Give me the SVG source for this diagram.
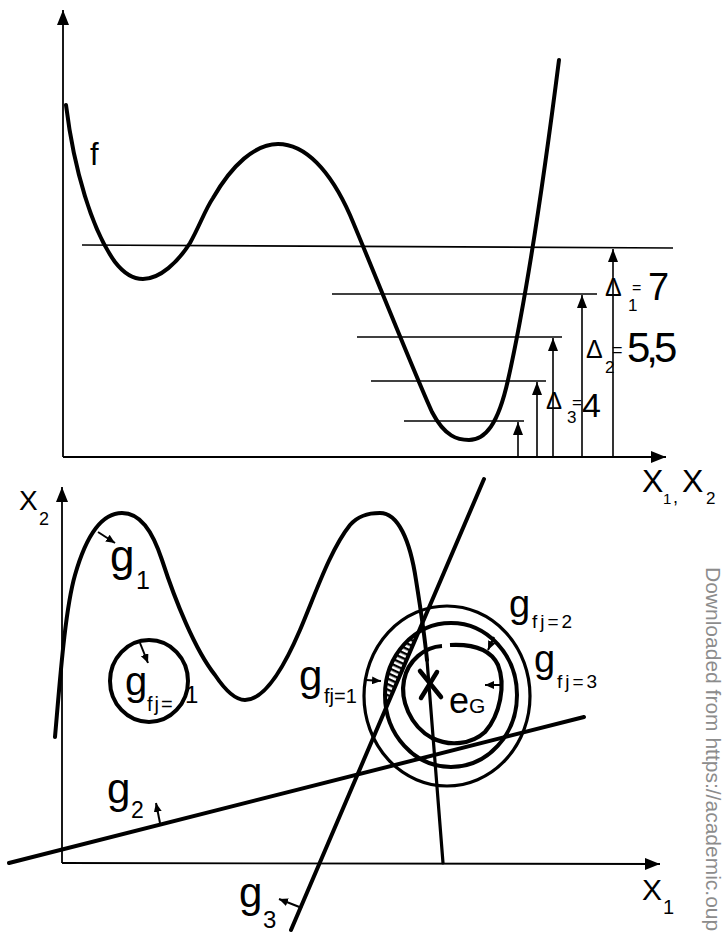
<svg xmlns="http://www.w3.org/2000/svg" width="727" height="933" viewBox="0 0 727 933">
<defs>
<style>
.ax{fill:none;stroke:#000;stroke-width:1.8}
.thin{fill:none;stroke:#000;stroke-width:1.6}
.cv{fill:none;stroke:#000;stroke-width:4;stroke-linecap:round;stroke-linejoin:round}
.mid{fill:none;stroke:#000;stroke-width:3.2;stroke-linecap:round}
.sa{fill:none;stroke:#000;stroke-width:2;marker-end:url(#sh)}
.da{fill:none;stroke:#000;stroke-width:1.6;marker-end:url(#dh)}
.t{font-family:"Liberation Sans",Arial,sans-serif;fill:#000}
</style>
<marker id="axh" markerUnits="userSpaceOnUse" markerWidth="15" markerHeight="12" refX="15" refY="6" orient="auto"><path d="M0,0 L15,6 L0,12 z" fill="#000"/></marker>
<marker id="dh" markerUnits="userSpaceOnUse" markerWidth="13" markerHeight="10" refX="13" refY="5" orient="auto"><path d="M0,0 L13,5 L0,10 z" fill="#000"/></marker>
<marker id="sh" markerUnits="userSpaceOnUse" markerWidth="9" markerHeight="8" refX="9" refY="4" orient="auto"><path d="M0,0 L9,4 L0,8 z" fill="#000"/></marker>
<pattern id="hatch" patternUnits="userSpaceOnUse" width="6" height="5" patternTransform="rotate(25)"><rect x="0" y="0" width="6" height="2.4" fill="#000"/></pattern>
</defs>
<rect width="727" height="933" fill="#fff"/>

<g id="top-axes">
<line class="ax" x1="63" y1="457" x2="63" y2="10" marker-end="url(#axh)"/>
<line class="ax" x1="63" y1="457" x2="666" y2="457" marker-end="url(#axh)"/>
<text class="t"><tspan x="642" y="492" font-size="32">X</tspan><tspan x="663" y="504" font-size="15">1</tspan><tspan x="673" y="503" font-size="18">,</tspan><tspan x="682" y="492" font-size="32">X</tspan><tspan x="706" y="504" font-size="17">2</tspan></text>
</g>

<g id="f-curve">
<path class="cv" d="M66,105 C74,170 92,230 115,262 C125,275 135,279 143,279 C160,279 178,262 190,243 C200,225 205,210 213,198 C232,165 255,144 278,144 C305,144 330,170 350,215 C370,262 415,375 432,412 C445,437 458,440 469,440 C485,440 498,425 508,380 C522,318 538,225 559,60"/>
<text class="t" x="90" y="165" font-size="31">f</text>
</g>

<g id="levels">
<line class="thin" x1="82" y1="245" x2="673" y2="248"/>
<line class="thin" x1="332" y1="294" x2="597" y2="294"/>
<line class="thin" x1="357" y1="337" x2="562" y2="337"/>
<line class="thin" x1="371" y1="381" x2="546" y2="381"/>
<line class="thin" x1="404" y1="421" x2="524" y2="421"/>
</g>

<g id="delta-arrows">
<line class="da" x1="518" y1="457" x2="518" y2="422"/>
<line class="da" x1="537" y1="457" x2="537" y2="382"/>
<line class="da" x1="553" y1="457" x2="553" y2="338"/>
<line class="da" x1="582" y1="457" x2="582" y2="295"/>
<line class="da" x1="613" y1="457" x2="613" y2="249"/>
</g>

<g id="delta-labels">
<text class="t"><tspan x="605" y="296" font-size="25">Δ</tspan><tspan x="628" y="311" font-size="17">1</tspan><tspan x="632" y="293" font-size="16">=</tspan><tspan x="648" y="300" font-size="38">7</tspan></text>
<text class="t"><tspan x="586" y="358" font-size="25">Δ</tspan><tspan x="605" y="373" font-size="17">2</tspan><tspan x="612" y="356" font-size="18">=</tspan><tspan x="627" y="362" font-size="42" letter-spacing="-4">5,5</tspan></text>
<text class="t"><tspan x="546" y="409" font-size="24">Δ</tspan><tspan x="567" y="423" font-size="17">3</tspan><tspan x="572" y="408" font-size="17">=</tspan><tspan x="582" y="417" font-size="34">4</tspan></text>
</g>

<g id="bottom-axes">
<line class="ax" x1="62" y1="863" x2="62" y2="487" marker-end="url(#axh)"/>
<line class="ax" x1="62" y1="863" x2="660" y2="864" marker-end="url(#axh)"/>
<text class="t"><tspan x="19" y="510" font-size="28">X</tspan><tspan x="39" y="525" font-size="18">2</tspan></text>
<text class="t"><tspan x="642" y="900" font-size="30">X</tspan><tspan x="663" y="914" font-size="20">1</tspan></text>
</g>

<g id="g1">
<path class="cv" d="M55,737 C60,680 65,610 75,575 C85,540 100,513 122,513 C140,513 152,530 162,560 C175,600 195,650 215,675 C225,690 235,700 245,700 C265,700 285,665 300,630 C315,595 330,550 350,525 C358,516 367,513 380,513 C398,513 410,540 416,580 C420,605 424,630 427,660"/>
<line class="mid" x1="427" y1="660" x2="443" y2="863"/>
<text class="t"><tspan x="110" y="571" font-size="44">g</tspan><tspan x="136" y="589" font-size="25">1</tspan></text>
</g>

<g id="g2">
<line class="cv" x1="9" y1="863" x2="584" y2="717" stroke-width="4.2"/>
<text class="t"><tspan x="107" y="803" font-size="42">g</tspan><tspan x="131" y="818" font-size="23">2</tspan></text>
</g>

<g id="g3">
<line class="cv" x1="484" y1="479" x2="291" y2="930" stroke-width="3.4"/>
<text class="t"><tspan x="239" y="907" font-size="42">g</tspan><tspan x="263" y="928" font-size="24">3</tspan></text>
</g>

<g id="gfj1-small">
<ellipse cx="149" cy="681" rx="39" ry="41" fill="none" stroke="#000" stroke-width="4"/>
<text class="t"><tspan x="125" y="695" font-size="40">g</tspan><tspan x="147" y="711" font-size="20" letter-spacing="2">fj=</tspan><tspan x="185" y="703" font-size="24">1</tspan></text>
</g>

<g id="feasible-hatch">
<path d="M418.4,632.4 L386.1,708 A66,72 0 0 1 418.4,632.4 Z" fill="url(#hatch)"/>
</g>

<g id="rings">
<ellipse id="ring-outer" cx="447" cy="696" rx="83" ry="90" fill="none" stroke="#000" stroke-width="3.2"/>
<ellipse id="ring-middle" cx="451" cy="695" rx="66" ry="72" fill="none" stroke="#000" stroke-width="4"/>
<path id="ring-inner" d="M450,645 C470,644 490,648 498,665 C506,685 500,715 485,732 C472,744 450,747 432,738 C410,726 400,700 404,680 C408,660 425,647 442,646" fill="none" stroke="#000" stroke-width="4.2"/>
<text class="t"><tspan x="299" y="690" font-size="42">g</tspan><tspan x="324" y="703" font-size="20">fj=1</tspan></text>
<text class="t"><tspan x="509" y="617" font-size="38">g</tspan><tspan x="532" y="628" font-size="19" letter-spacing="3">fj=2</tspan></text>
<text class="t"><tspan x="534" y="672" font-size="38">g</tspan><tspan x="557" y="688" font-size="19" letter-spacing="3">fj=3</tspan></text>
</g>

<g id="eG">
<path d="M420,671 L441,697 M437,672 L421,698" stroke="#000" stroke-width="4.5" fill="none" stroke-linecap="round"/>
<text class="t"><tspan x="449" y="713" font-size="36">e</tspan><tspan x="469" y="713" font-size="21">G</tspan></text>
</g>

<g id="connectors">
<line class="sa" x1="98" y1="532" x2="115" y2="543"/>
<line class="sa" x1="140" y1="643" x2="148" y2="663"/>
<line class="sa" x1="160" y1="823" x2="156" y2="803"/>
<line class="sa" x1="302" y1="908" x2="279" y2="899"/>
<line class="sa" x1="366" y1="680" x2="381" y2="681"/>
<line class="sa" x1="501" y1="685" x2="485" y2="685"/>
<line class="sa" x1="494" y1="637" x2="488" y2="650"/>
</g>

<text transform="translate(706,567) rotate(90)" font-family="Liberation Sans, Arial, sans-serif" font-size="21" fill="#8c8c8c">Downloaded from https://academic.oup</text>
</svg>
